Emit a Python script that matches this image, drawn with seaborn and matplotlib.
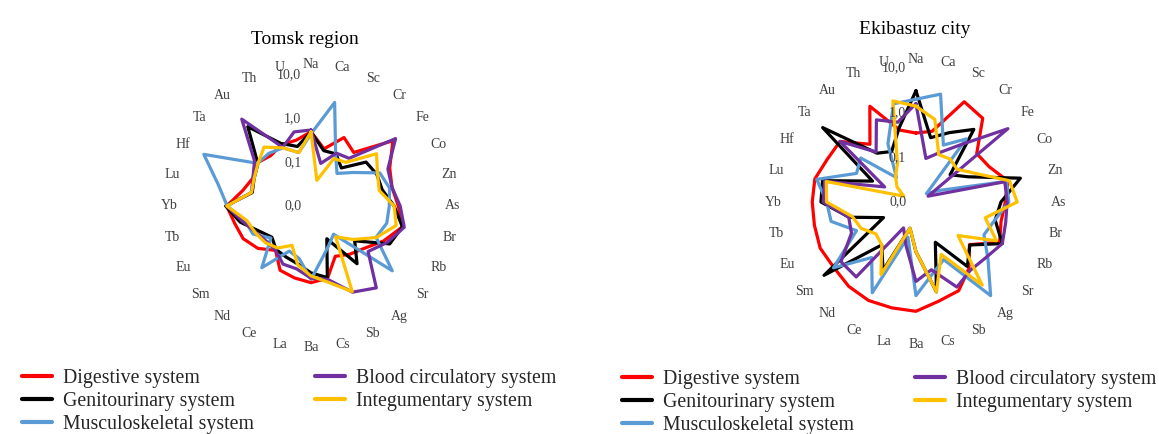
import numpy as np
import pandas as pd
import seaborn as sns
import matplotlib.pyplot as plt
from matplotlib.lines import Line2D

elements = ["Na", "Ca", "Sc", "Cr", "Fe", "Co", "Zn", "As", "Br", "Rb", "Sr", "Ag", "Sb", "Cs",
            "Ba", "La", "Ce", "Nd", "Sm", "Eu", "Tb", "Yb", "Lu", "Hf", "Ta", "Au", "Th", "U"]
systems = ["Digestive system", "Genitourinary system", "Musculoskeletal system",
           "Blood circulatory system", "Integumentary system"]
colors = ["#FF0000", "#000000", "#5B9BD5", "#7030A0", "#FFC000"]
tick_labels = ["0,0", "0,1", "1,0", "10,0"]

# Tomsk region
tomsk_digestive = [0.5, 0.22, 0.55, 0.37, 2.5, 1.0, 0.8, 1.0, 1.4, 0.7, 0.36, 0.26, 0.19, 0.5,
                   0.57, 0.49, 0.43, 0.2, 0.36, 0.53, 0.62, 0.85, 0.4, 0.3, 0.38, 0.3, 0.36, 0.35]
tomsk_genito = [0.5, 0.2, 0.21, 0.13, 0.41, 0.47, 0.47, 0.8, 1.4, 1.0, 0.19, 0.49, 0.068, 0.48,
                0.34, 0.23, 0.2, 0.19, 0.14, 0.21, 0.46, 0.9, 0.24, 0.28, 0.36, 2.1, 0.39, 0.25]
tomsk_musculo = [0.45, 2.7, 0.2, 0.09, 0.17, 0.56, 0.7, 0.62, 0.6, 0.45, 2.4, 0.067, 0.093, 0.16,
                 0.48, 0.17, 0.14, 0.64, 0.15, 0.3, 0.35, 0.83, 1.5, 5.3, 0.37, 0.35, 0.3, 0.18]
tomsk_blood = [0.55, 0.1, 0.22, 0.25, 3.0, 0.9, 0.8, 1.1, 1.55, 0.85, 0.47, 2.5, 1.55, 0.53,
               0.45, 0.3, 0.3, 0.2, 0.2, 0.25, 0.4, 0.85, 0.25, 0.3, 0.45, 3.5, 0.31, 0.55]
tomsk_integ = [0.5, 0.04, 0.16, 0.19, 0.83, 0.49, 0.4, 0.8, 1.0, 0.46, 0.17, 0.08, 1.5, 0.62,
               0.4, 0.24, 0.1, 0.17, 0.22, 0.26, 0.32, 0.85, 0.25, 0.28, 0.36, 0.53, 0.3, 0.18]

# Ekibastuz city
eki_digestive = [0.35, 0.42, 3.1, 2.5, 0.55, 0.66, 1.3, 1.0, 0.9, 1.2, 0.34, 0.8, 1.6, 1.9,
                 2.8, 2.7, 2.8, 2.6, 2.25, 2.4, 2.15, 2.1, 2.1, 1.6, 1.5, 0.45, 2.4, 0.45]
eki_genito = [3.1, 0.3, 0.53, 1.2, 0.095, 0.2, 2.5, 0.8, 0.66, 1.4, 0.35, 0.7, 0.1, 1.16,
              0.13, 0.04, 0.5, 0.17, 4.3, 0.064, 0.34, 1.34, 1.4, 0.12, 4.7, 0.25, 0.18, 0.5]
eki_musculo = [2.0, 3.0, 0.26, 0.64, 0.02, 0.04, 1.2, 1.2, 0.65, 0.49, 1.16, 4.8, 0.27, 0.45,
               1.25, 0.064, 1.8, 0.39, 2.3, 0.3, 0.89, 1.0, 1.9, 0.3, 0.38, 0.05, 0.28, 1.8]
eki_blood = [1.6, 0.1, 0.17, 0.45, 4.3, 0.02, 1.1, 1.1, 1.15, 1.4, 1.0, 0.9, 1.3, 0.36,
             0.6, 0.1, 0.044, 1.4, 1.4, 0.4, 0.35, 1.2, 1.25, 0.06, 1.5, 0.27, 1.1, 0.68]
eki_integ = [1.4, 0.79, 0.15, 0.17, 0.15, 0.3, 1.4, 1.85, 0.39, 1.0, 0.16, 2.4, 0.2, 1.16,
             0.13, 0.04, 0.64, 0.17, 0.14, 0.23, 0.29, 1.0, 1.15, 0.02, 0.035, 0.054, 0.09, 2.1]

sns.set_theme(style="white")
plt.rcParams["font.family"] = ["Liberation Serif", "DejaVu Serif"]

fig = plt.figure(figsize=(11.59, 4.34), dpi=100)


def radar(rect, series, title, title_xy, lab_r):
    ax = fig.add_axes(rect, projection="polar")
    theta = np.linspace(0, 2 * np.pi, len(elements), endpoint=False)
    rows = []
    for name, vals in zip(systems, series):
        t = list(theta) + [2 * np.pi]
        v = list(vals) + [vals[0]]
        for i, (a, x) in enumerate(zip(t, v)):
            rows.append({"theta": a, "r": np.log10(x) + 2, "system": name, "step": i})
    df = pd.DataFrame(rows)
    sns.lineplot(data=df, x="theta", y="r", hue="system", hue_order=systems,
                 palette=colors, sort=False, estimator=None, linewidth=2.3,
                 legend=False, ax=ax)
    ax.set_theta_zero_location("N")
    ax.set_theta_direction(-1)
    ax.set_ylim(0, 3)
    ax.set_xticks([])
    ax.set_yticks([])
    ax.set_xlabel("")
    ax.set_ylabel("")
    ax.grid(False)
    ax.spines["polar"].set_visible(False)
    ax.patch.set_alpha(0)
    for a, lab in zip(theta, elements):
        ax.text(a, lab_r, lab, ha="center", va="center", fontsize=10, color="#404040")
    for rv, lab in enumerate(tick_labels):
        ax.annotate(lab, xy=(0, rv), xytext=(-7, 0), textcoords="offset points",
                    ha="right", va="center", fontsize=10, color="#404040")
    fig.text(title_xy[0], title_xy[1], title, ha="center", va="center", fontsize=14, color="black")
    return ax


radar([0.1553, 0.2235, 0.2261, 0.6037],
      [tomsk_digestive, tomsk_genito, tomsk_musculo, tomsk_blood, tomsk_integ],
      "Tomsk region", (305 / 1159, 1 - 40 / 434), 3.25)
radar([0.6747, 0.2258, 0.2312, 0.6175],
      [eki_digestive, eki_genito, eki_musculo, eki_blood, eki_integ],
      "Ekibastuz city", (915 / 1159, 1 - 30 / 434), 3.2)

handles = [Line2D([], [], color=c, lw=3) for c in colors]
for x0, y0, cs in [(22 / 1159, 1 - 369 / 434, 3.1), (622 / 1159, 1 - 370 / 434, 3.1)]:
    fig.legend(handles, systems, loc="upper left", bbox_to_anchor=(x0, y0), ncol=2,
               frameon=False, fontsize=14.3, handlelength=1.5, handletextpad=0.55,
               columnspacing=cs, labelspacing=0.2, borderaxespad=0, borderpad=0)

fig.savefig("out.png", dpi=100)
